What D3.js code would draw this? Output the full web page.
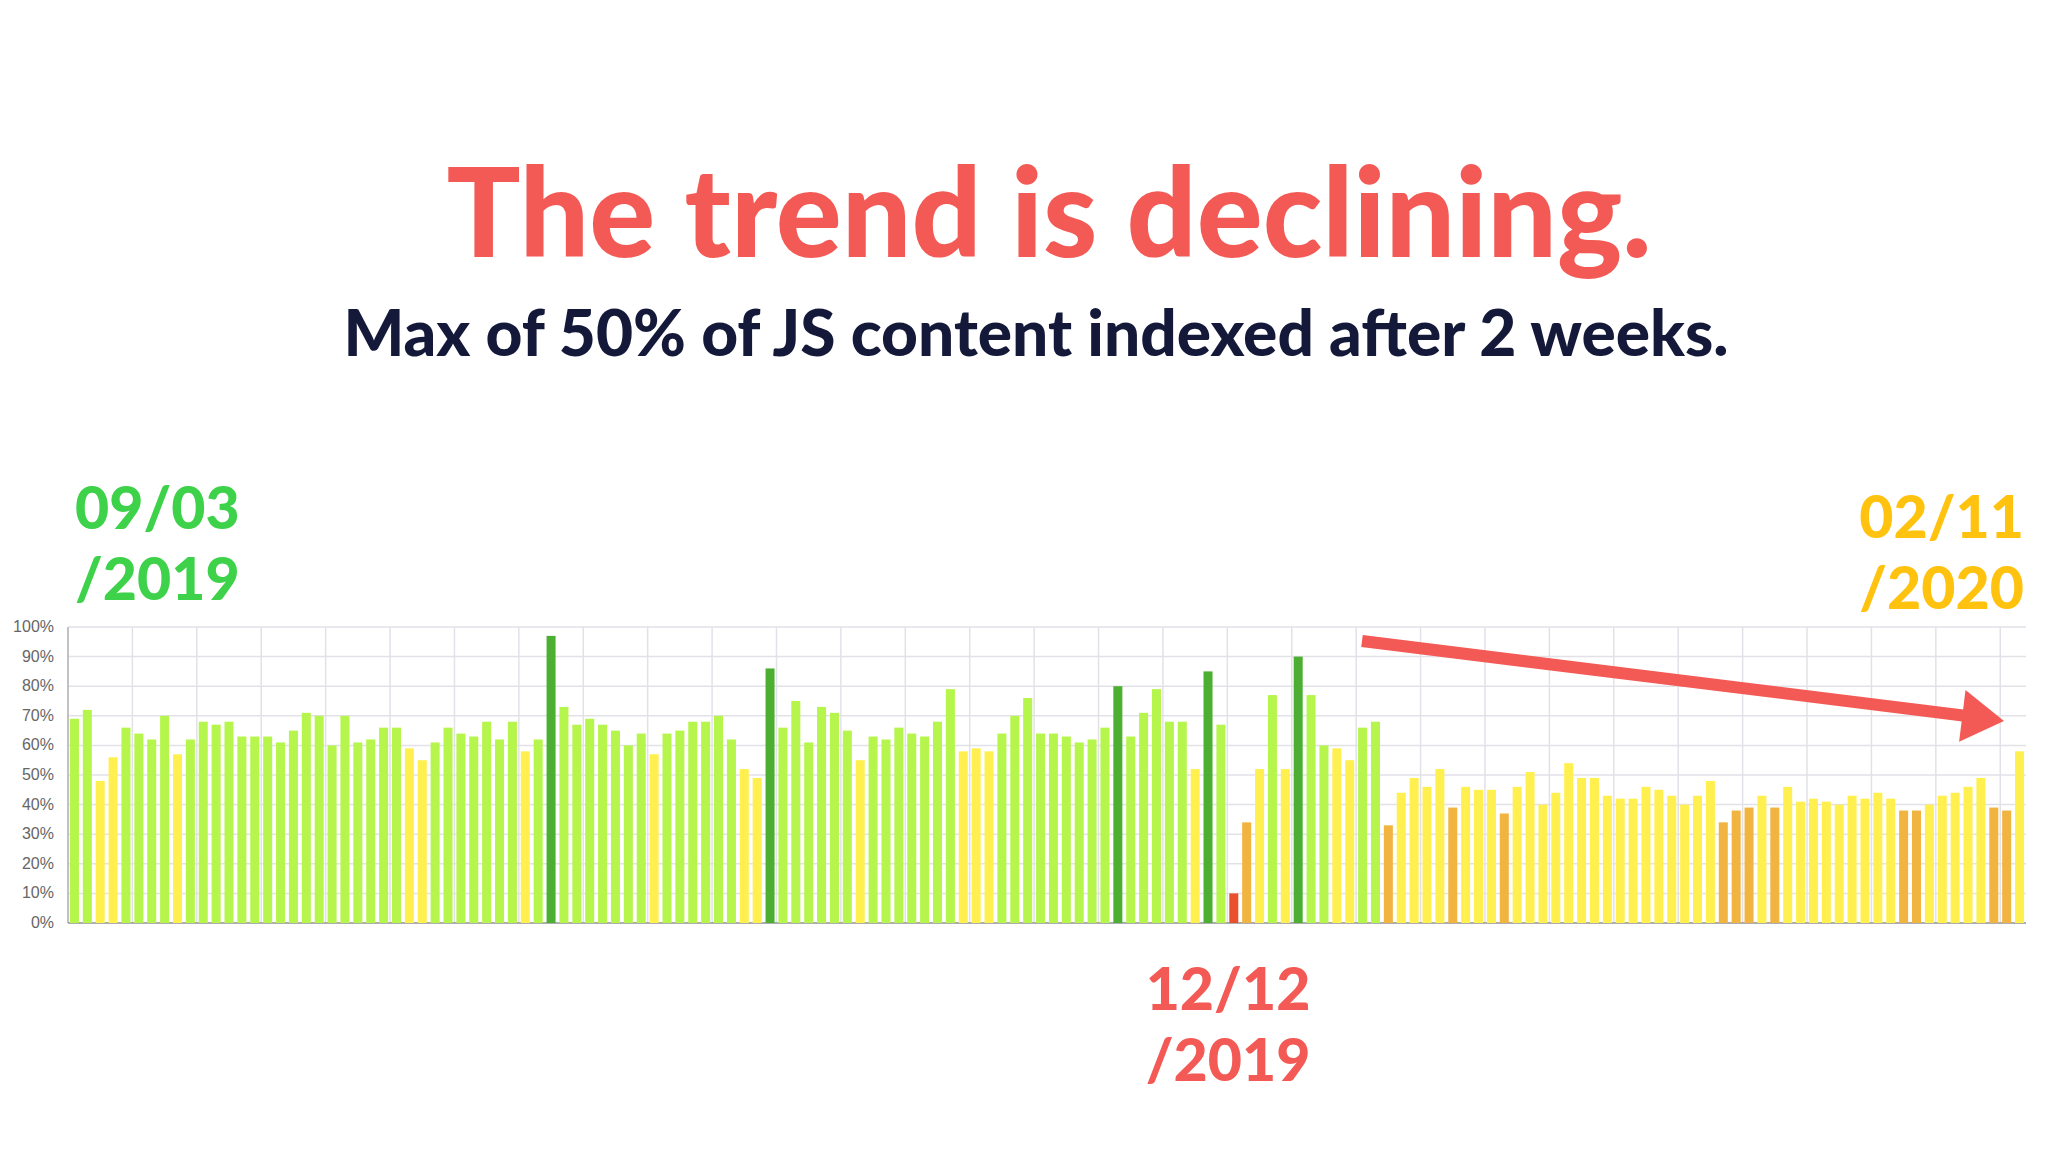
<!DOCTYPE html>
<html><head><meta charset="utf-8">
<script src="https://cdn.jsdelivr.net/npm/d3@7"></script>
<style>body{margin:0;background:#fff}svg{display:block}</style>
</head><body><svg id="c" width="2048" height="1152"></svg>
<script>
const values = [69,72,48,56,66,64,62,70,57,62,68,67,68,63,63,63,61,65,71,70,60,70,61,62,66,66,59,55,61,66,64,63,68,62,68,58,62,97,73,67,69,67,65,60,64,57,64,65,68,68,70,62,52,49,86,66,75,61,73,71,65,55,63,62,66,64,63,68,79,58,59,58,64,70,76,64,64,63,61,62,66,80,63,71,79,68,68,52,85,67,10,34,52,77,52,90,77,60,59,55,66,68,33,44,49,46,52,39,46,45,45,37,46,51,40,44,54,49,49,43,42,42,46,45,43,40,43,48,34,38,39,43,39,46,41,42,41,40,43,42,44,42,38,38,40,43,44,46,49,39,38,58];
const yTicks = [0,10,20,30,40,50,60,70,80,90,100];
const colorBreaks = [20,40,60,80];
const colorList = ["#e8502e","#f2b440","#fff050","#b6f54c","#4caf32"];

const svg = d3.select("#c");
const L=68,R=2026,T=627,B=923;
const x = d3.scaleBand().domain(d3.range(values.length)).range([L,R]).paddingInner(0.3).paddingOuter(0.15);
const y = d3.scaleLinear().domain([0,100]).range([B,T]);
const col = d3.scaleThreshold().domain(colorBreaks).range(colorList);
const g = svg.append("g");
g.selectAll(".hg").data(yTicks).join("line").attr("x1",L).attr("x2",R).attr("y1",d=>y(d)).attr("y2",d=>y(d)).attr("stroke","#e3e1e8").attr("stroke-width",1.5);
const vg = d3.range(0,values.length+1,5);
g.selectAll(".vg").data(vg).join("line").attr("x1",d=>L+d*(R-L)/values.length).attr("x2",d=>L+d*(R-L)/values.length).attr("y1",T).attr("y2",B).attr("stroke","#e3e1e8").attr("stroke-width",1.5);
g.append("line").attr("x1",L).attr("x2",L).attr("y1",T).attr("y2",B).attr("stroke","#999");
g.append("line").attr("x1",L).attr("x2",R).attr("y1",B).attr("y2",B).attr("stroke","#999").attr("stroke-width",1.5);
g.selectAll(".yl").data(yTicks).join("text").attr("x",54).attr("y",d=>y(d)+5).attr("text-anchor","end")
 .attr("font-family","Liberation Sans, Arial").attr("font-size",16).attr("fill","#666").text(d=>d+"%");
g.selectAll(".b").data(values).join("rect").attr("x",(d,i)=>x(i)).attr("width",x.bandwidth())
 .attr("y",d=>y(d)).attr("height",d=>B-y(d)).attr("fill",d=>col(d));
const F="Lato, 'Noto Sans', sans-serif";
svg.append("text").attr("x",1049).attr("y",257).attr("text-anchor","middle").attr("font-family",F).attr("font-weight",900).attr("font-size",123).attr("fill","#f45a55").text("The trend is declining.");
svg.append("text").attr("x",1036).attr("y",356).attr("text-anchor","middle").attr("font-family",F).attr("font-weight",900).attr("font-size",64).attr("fill","#14193a").text("Max of 50% of JS content indexed after 2 weeks.");
function lbl(t1,t2,xx,y1,anchor,c){
 svg.append("text").attr("x",xx).attr("y",y1).attr("text-anchor",anchor).attr("font-family",F).attr("font-weight",900).attr("font-size",59).attr("fill",c).text(t1);
 svg.append("text").attr("x",xx).attr("y",y1+71).attr("text-anchor",anchor).attr("font-family",F).attr("font-weight",900).attr("font-size",59).attr("fill",c).text(t2);
}
lbl("09/03","/2019",75,529,"start","#3dd24a");
lbl("02/11","/2020",2024,538,"end","#ffc20e");
lbl("12/12","/2019",1228,1010,"middle","#f45a55");
const ax1=1362,ay1=641,ax2=1975,ay2=717;
svg.append("line").attr("x1",ax1).attr("y1",ay1).attr("x2",ax2).attr("y2",ay2).attr("stroke","#f45a55").attr("stroke-width",12);
const ang=Math.atan2(ay2-ay1,ax2-ax1);
const tip=[2004,721];
const hl=42,hw=26;
const bx=tip[0]-hl*Math.cos(ang), by=tip[1]-hl*Math.sin(ang);
svg.append("polygon").attr("points",[tip,[bx+hw*Math.sin(ang),by-hw*Math.cos(ang)],[bx-hw*Math.sin(ang),by+hw*Math.cos(ang)]].map(p=>p.join(",")).join(" ")).attr("fill","#f45a55");
</script></body></html>
